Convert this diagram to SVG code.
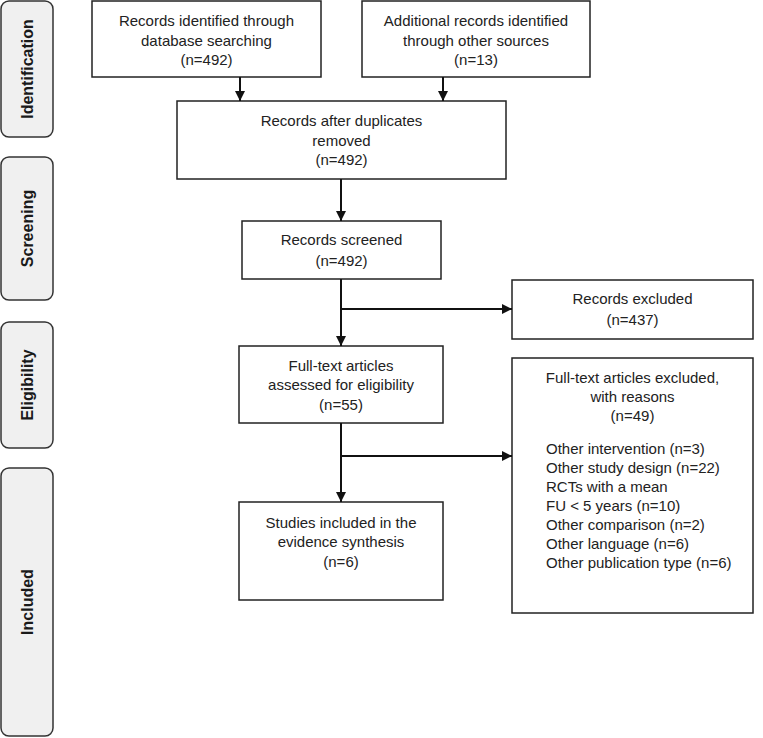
<svg xmlns="http://www.w3.org/2000/svg" width="763" height="738" viewBox="0 0 763 738">
<style>
.bg{fill:#ffffff}
.phase rect{fill:#f0f0f0;stroke:#333;stroke-width:1.5}
.phase text{font-family:"Liberation Sans",Arial,sans-serif;font-weight:bold;font-size:16px;fill:#1a1a1a;text-anchor:middle}
.box rect{fill:#fff;stroke:#222;stroke-width:1.5}
.box text{font-family:"Liberation Sans",Arial,sans-serif;font-size:15px;fill:#222;text-anchor:middle}
.box text.l{text-anchor:start}
#connectors path{fill:none;stroke:#111;stroke-width:2}
</style>
<defs>
<marker id="ah" markerWidth="10" markerHeight="10" refX="10" refY="5" orient="auto" markerUnits="userSpaceOnUse">
<path d="M0,0 L10,5 L0,10 Z" fill="#111"/>
</marker>
</defs>
<rect class="bg" width="763" height="738"/>

<g id="phase-identification" class="phase"><rect x="1" y="1" width="52" height="136" rx="8"/><text transform="translate(33,69) rotate(-90)">Identification</text></g>
<g id="phase-screening" class="phase"><rect x="1" y="157" width="52" height="143" rx="8"/><text transform="translate(33,228.5) rotate(-90)">Screening</text></g>
<g id="phase-eligibility" class="phase"><rect x="1" y="322" width="52" height="126" rx="8"/><text transform="translate(33,385) rotate(-90)">Eligibility</text></g>
<g id="phase-included" class="phase"><rect x="1" y="468" width="52" height="268" rx="8"/><text transform="translate(33,602) rotate(-90)">Included</text></g>

<g id="db-records" class="box"><rect x="92" y="1" width="229" height="76"/>
<text x="206.5" y="26">Records identified through</text><text x="206.5" y="45.5">database searching</text><text x="206.5" y="65">(n=492)</text></g>
<g id="other-records" class="box"><rect x="362" y="1" width="228" height="76"/>
<text x="476" y="26">Additional records identified</text><text x="476" y="45.5">through other sources</text><text x="476" y="65">(n=13)</text></g>
<g id="after-duplicates" class="box"><rect x="177" y="101" width="329" height="78"/>
<text x="341.5" y="126">Records after duplicates</text><text x="341.5" y="145.5">removed</text><text x="341.5" y="165">(n=492)</text></g>
<g id="screened" class="box"><rect x="242" y="221" width="199" height="58"/>
<text x="341.5" y="245">Records screened</text><text x="341.5" y="266">(n=492)</text></g>
<g id="excluded" class="box"><rect x="512" y="280" width="241" height="59"/>
<text x="632.5" y="304">Records excluded</text><text x="632.5" y="325">(n=437)</text></g>
<g id="fulltext" class="box"><rect x="239" y="346" width="204" height="77"/>
<text x="341" y="371">Full-text articles</text><text x="341" y="390">assessed for eligibility</text><text x="341" y="410">(n=55)</text></g>
<g id="fulltext-excluded" class="box"><rect x="512" y="358" width="241" height="255"/>
<text x="632.5" y="383">Full-text articles excluded,</text><text x="632.5" y="402">with reasons</text><text x="632.5" y="421">(n=49)</text>
<text class="l" x="546" y="454">Other intervention (n=3)</text>
<text class="l" x="546" y="473">Other study design (n=22)</text>
<text class="l" x="546" y="492">RCTs with a mean</text>
<text class="l" x="546" y="511">FU &lt; 5 years (n=10)</text>
<text class="l" x="546" y="530">Other comparison (n=2)</text>
<text class="l" x="546" y="549">Other language (n=6)</text>
<text class="l" x="546" y="568">Other publication type (n=6)</text></g>
<g id="included" class="box"><rect x="239" y="502" width="204" height="98"/>
<text x="341" y="528">Studies included in the</text><text x="341" y="547">evidence synthesis</text><text x="341" y="567">(n=6)</text></g>

<g id="connectors">
<path d="M240,77 V101" marker-end="url(#ah)"/>
<path d="M443,77 V101" marker-end="url(#ah)"/>
<path d="M341,179 V221" marker-end="url(#ah)"/>
<path d="M341,279 V346" marker-end="url(#ah)"/>
<path d="M341,309 H512" marker-end="url(#ah)"/>
<path d="M341,423 V502" marker-end="url(#ah)"/>
<path d="M341,456 H512" marker-end="url(#ah)"/>
</g>
</svg>
